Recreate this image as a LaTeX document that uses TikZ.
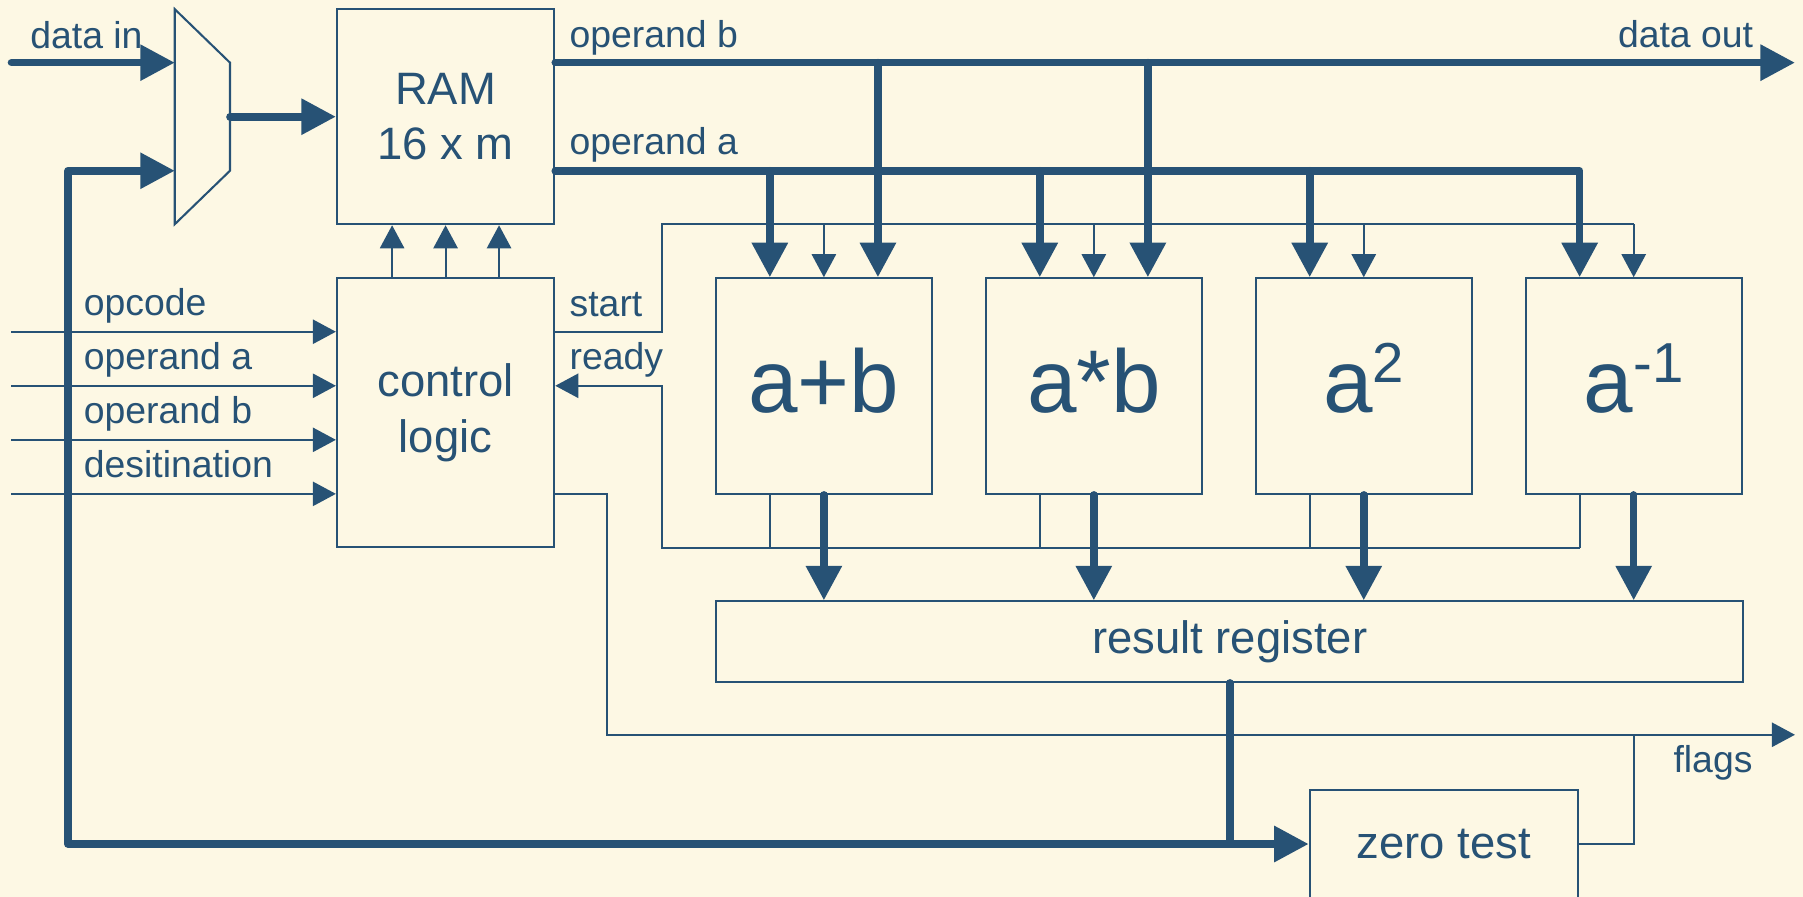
\documentclass[tikz,border=0pt]{standalone}
\usepackage{fontspec}
\setmainfont{Liberation Sans}
\usetikzlibrary{arrows.meta}
\definecolor{paper}{RGB}{253,248,228}
\definecolor{ink}{RGB}{39,82,117}
\newcommand\fsSmall{\fontsize{16.25pt}{19pt}\selectfont}
\newcommand\fsMid{\fontsize{19.75pt}{24pt}\selectfont}
\newcommand\fsBig{\fontsize{38.7pt}{40pt}\selectfont}
\newcommand\fsSup{\fontsize{24.5pt}{25pt}\selectfont}
\begin{document}
\begin{tikzpicture}[x=0.5pt,y=-0.5pt,
  wire/.style={draw=ink,line width=0.9pt},
  bus/.style={draw=ink,line width=3.3pt,line cap=round,line join=round},
  thin tip/.style={-{Triangle[length=10pt,width=10.5pt]}},
  bus tip/.style={-{Triangle[length=15pt,width=15pt]}},
  block/.style={draw=ink,line width=0.9pt,inner sep=0pt,align=center,text=ink},
  opbox/.style={block,minimum width=94pt,minimum height=93.75pt,font=\fsBig,
    text height=23.25pt,text depth=0pt},
  lbl/.style={text=ink,inner sep=0pt,font=\fsSmall},
]
\useasboundingbox (0,0) rectangle (1568,780);
\fill[paper] (0,0) rectangle (1568,780);

% ---- blocks ----
\node[block,minimum width=94.5pt,minimum height=93.5pt,font=\fsMid] (ram) at (387.5,101.5) {RAM\\16 x m};
\node[block,minimum width=94.5pt,minimum height=117pt,font=\fsMid] (ctl) at (387.5,359) {control\\logic};
\node[opbox] (add) at (716.5,335.75) {a+b};
\node[opbox] (mul) at (951.25,335.75) {a*b};
\node[opbox] (sq)  at (1186,335.75) {a\raisebox{13pt}{\fsSup 2}};
\node[opbox] (inv) at (1420.75,335.75) {a\raisebox{13pt}{\fsSup -1}};
\node[block,minimum width=446.5pt,minimum height=35pt,font=\fsMid] (rr) at (1069.5,558) {result register};
\node[block,minimum width=116.5pt,minimum height=47pt,font=\fsMid] (zt) at (1255.5,734) {zero test};

% ---- multiplexer ----
\draw[wire,line join=miter] (152,8) -- (200,54.5) -- (200,148.5) -- (152,195) -- cycle;
\coordinate (mux-a) at (152,54.5);
\coordinate (mux-b) at (152,148.5);
\coordinate (mux-o) at (200,101.5);
\coordinate (din) at (10,54.5);

% ---- named ports and bends ----
\coordinate (ob) at ([yshift=23.5pt]ram.east);
\coordinate (oa) at ([yshift=-23.5pt]ram.east);
\coordinate (dout) at (1561,54.5);
\coordinate (st-o) at ([yshift=35.25pt]ctl.east);
\coordinate (rd-i) at ([yshift=11.75pt]ctl.east);
\coordinate (fl-o) at ([yshift=-35.25pt]ctl.east);
\coordinate (st) at (575.5,195);
\coordinate (rdy) at (575.5,476.5);
\coordinate (fk) at (528,639);
\coordinate (fend) at (1561,639);
\coordinate (fb) at (59,734);
\coordinate (j) at (rr.south |- zt.west);
\coordinate (zo) at (1421,734);
\coordinate (l1) at (10,288.5);
\coordinate (l2) at (10,335.5);
\coordinate (l3) at (10,382.5);
\coordinate (l4) at (10,429.5);

\foreach \b in {add,mul,sq,inv} {
  \coordinate (\b-a) at ([xshift=-23.5pt]\b.north);
  \coordinate (\b-b) at ([xshift=23.5pt]\b.north);
  \coordinate (\b-r) at ([xshift=-23.5pt]\b.south);
}

% ---- data path into the RAM ----
\draw[bus,bus tip] (din) -- (mux-a);
\draw[bus,bus tip] (mux-o) -- (ram.west);

% ---- operand buses ----
\draw[bus,bus tip] (ob) -- (dout);
\draw[bus,bus tip] (add-b |- ob) -- (add-b);
\draw[bus,bus tip] (mul-b |- ob) -- (mul-b);
\draw[bus,bus tip] (oa) -- (inv-a |- oa) -- (inv-a);
\foreach \b in {add,mul,sq}
  \draw[bus,bus tip] (\b-a |- oa) -- (\b-a);

% ---- control lines ----
\foreach \dx in {-23.25,0,23.25}
  \draw[wire,thin tip] ([xshift=\dx pt]ctl.north) -- ([xshift=\dx pt]ram.south);
\foreach \l in {l1,l2,l3,l4}
  \draw[wire,thin tip] (\l) -- (\l -| ctl.west);
\draw[wire] (st-o) -| (st) -- (inv.north |- st);
\draw[wire,thin tip] (inv-r |- rdy) -- (rdy) -- (rdy |- rd-i) -- (rd-i);
\foreach \b in {add,mul,sq,inv} {
  \draw[wire,thin tip] (\b.north |- st) -- (\b.north);
  \draw[wire] (\b-r) -- (\b-r |- rdy);
  \draw[bus,bus tip] (\b.south) -- (\b.south |- rr.north);
}

% ---- result, zero test, flags ----
\draw[wire,thin tip] (fl-o) -| (fk) -- (fend);
\draw[wire] (zt.east) -- (zo) -- (zo |- fk);
\draw[bus,bus tip] (rr.south) -- (j) -- (zt.west);
\draw[bus,bus tip] (j) -- (fb) -- (fb |- mux-b) -- (mux-b);

% ---- labels ----
\node[lbl,anchor=base west] (t-din) at (26,42) {data in};
\node[lbl,anchor=base west] (t-ob) at (495,41.5) {operand b};
\node[lbl,anchor=base west] (t-oa) at (495,134) {operand a};
\node[lbl,anchor=base east] (t-dout) at (1525,41.5) {data out};
\node[lbl,anchor=base west] (t-st) at (495,275.5) {start};
\node[lbl,anchor=base west] (t-rd) at (495,321.5) {ready};
\node[lbl,anchor=base west] (t-op) at (72.5,274.5) {opcode};
\node[lbl,anchor=base west] (t-ia) at (72.5,321.5) {operand a};
\node[lbl,anchor=base west] (t-ib) at (72.5,368.5) {operand b};
\node[lbl,anchor=base west] (t-ds) at (72.5,415.5) {desitination};
\node[lbl,anchor=base west] (t-fl) at (1455,672) {flags};
\end{tikzpicture}
\end{document}
